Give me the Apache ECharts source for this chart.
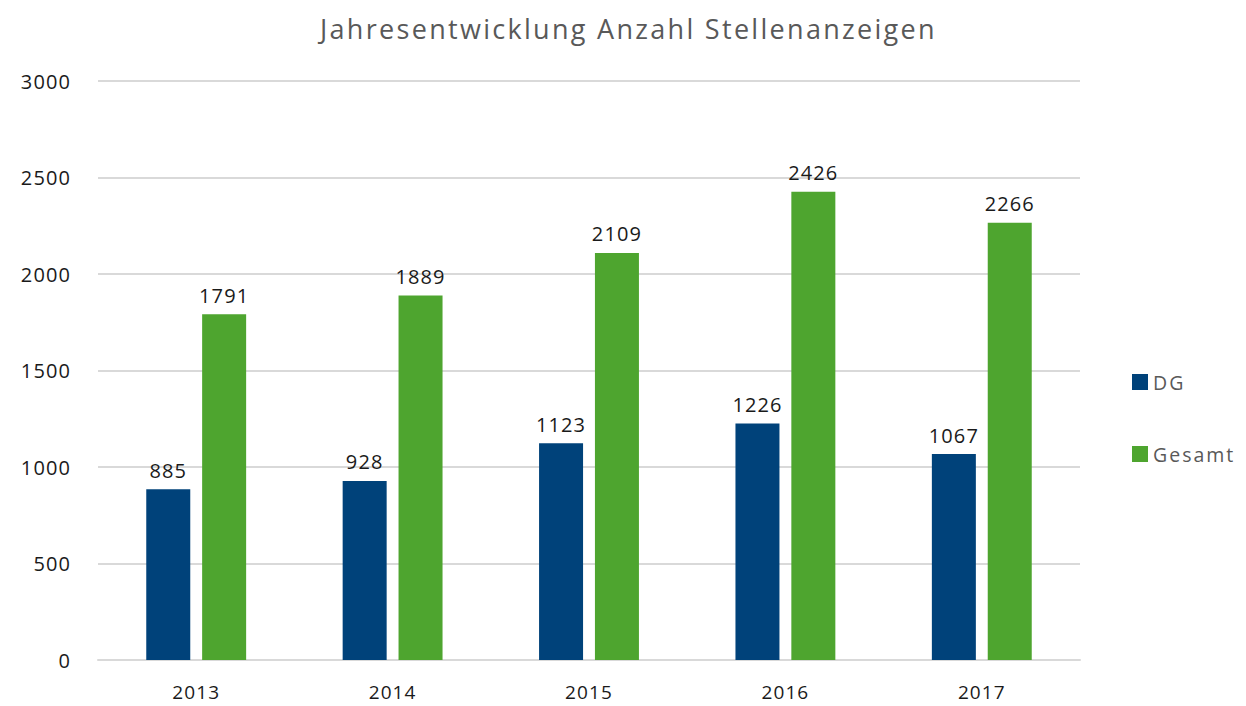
<!DOCTYPE html>
<html>
<head>
<meta charset="utf-8">
<script src="https://cdn.jsdelivr.net/npm/echarts@6/dist/echarts.min.js"></script>
<style>
  html, body { margin: 0; padding: 0; background: #ffffff; }
  #chart { width: 1246px; height: 706px; }
  /* the typeface in use is set wide; open up the tracking a little */
  #chart text { letter-spacing: 1.1px; }
  #chart text[style*="27px"] { letter-spacing: 2.3px; }
  #chart text[style*="19.5px"] { letter-spacing: 2px; }
</style>
</head>
<body>
<div id="chart"></div>
<script>
// Jahreswerte der Stellenanzeigen
const years = ['2013', '2014', '2015', '2016', '2017'];
const dgValues = [885, 928, 1123, 1226, 1067];
const gesamtValues = [1791, 1889, 2109, 2426, 2266];
const seriesNames = ['DG', 'Gesamt'];

const FONT = '"Open Sans", "Noto Sans", sans-serif';

const chart = echarts.init(document.getElementById('chart'), null, { renderer: 'svg' });

const labelStyle = {
  show: true,
  position: 'top',
  distance: 9,
  color: '#1a1a1a',
  fontSize: 20,
  fontFamily: FONT
};

chart.setOption({
  backgroundColor: '#ffffff',
  animation: false,
  title: {
    text: 'Jahresentwicklung Anzahl Stellenanzeigen',
    left: 315,
    top: 10,
    textStyle: { color: '#595959', fontSize: 27, fontWeight: 'normal', fontFamily: FONT }
  },
  legend: {
    orient: 'vertical',
    left: 1127,
    top: 367,
    itemWidth: 16,
    itemHeight: 16,
    itemGap: 52,
    icon: 'rect',
    data: seriesNames,
    textStyle: { color: '#595959', fontSize: 19.5, fontFamily: FONT, lineHeight: 20 }
  },
  grid: { left: 98, right: 166, top: 81, bottom: 46, containLabel: false },
  xAxis: {
    type: 'category',
    data: years,
    axisLine: { show: true, lineStyle: { color: '#d9d9d9', width: 2 } },
    axisTick: { show: false },
    axisLabel: { color: '#1a1a1a', fontSize: 19, fontFamily: FONT, margin: 22, lineHeight: 19 }
  },
  yAxis: {
    type: 'value',
    min: 0,
    max: 3000,
    interval: 500,
    axisLine: { show: false },
    axisTick: { show: false },
    splitLine: { lineStyle: { color: '#d9d9d9', width: 2 } },
    axisLabel: {
      color: '#1a1a1a', fontSize: 20, fontFamily: FONT, margin: 27,
      formatter: v => String(v)
    }
  },
  series: [
    {
      name: seriesNames[0],
      type: 'bar',
      data: dgValues,
      barWidth: 44,
      barGap: '27%',
      itemStyle: { color: '#00427a' },
      label: labelStyle
    },
    {
      name: seriesNames[1],
      type: 'bar',
      data: gesamtValues,
      barWidth: 44,
      barGap: '27%',
      itemStyle: { color: '#4ea52f' },
      label: labelStyle
    }
  ]
});
</script>
</body>
</html>
